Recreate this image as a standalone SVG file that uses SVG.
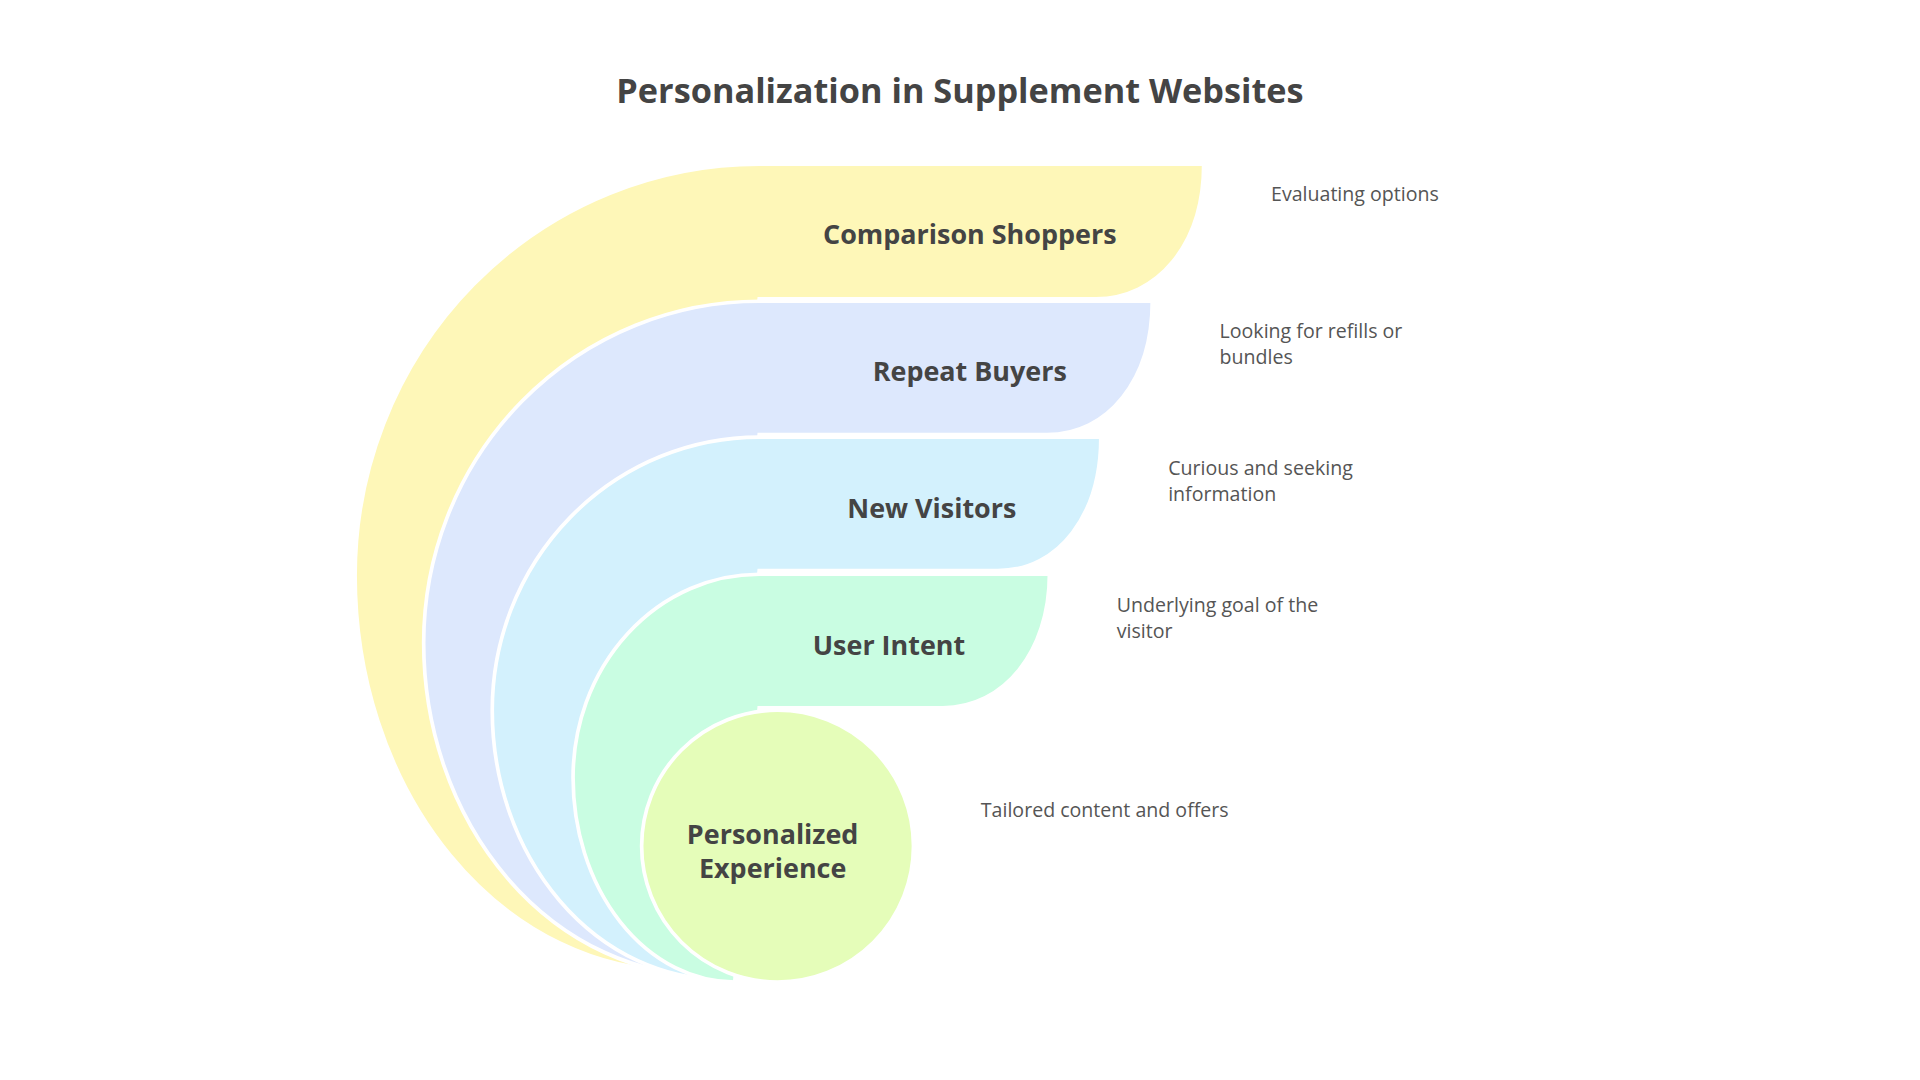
<svg xmlns="http://www.w3.org/2000/svg" width="1920" height="1080" viewBox="0 0 1920 1080">
<style>
.s{stroke:#fff;stroke-width:3}
.l{font-family:"Open Sans",sans-serif;font-weight:700;font-size:22px;fill:#444;text-anchor:middle}
.d{font-family:"Open Sans",sans-serif;font-size:16px;fill:#555}
</style>
<rect width="1920" height="1080" fill="#fff"/>
<g transform="scale(1.22449)">
<text x="784" y="84" style="font-family:'Open Sans',sans-serif;font-weight:700;font-size:28px;fill:#444;text-anchor:middle">Personalization in Supplement Websites</text>
<g id="comparison">
<path class="s" fill="#fef7b8" d="M983,134 L620,134 A330,336 0 0 0 290,470 A265,323 0 0 0 555,793 L620,244 L895,244 C945,244 983,200 983,134 Z"/>
<text class="l" x="792" y="199">Comparison Shoppers</text>
<text class="d" x="1038" y="164">Evaluating options</text>
</g>
<g id="repeat">
<path class="s" fill="#dde8fd" d="M941,246 L620,246 A274,279 0 0 0 346,525 A234,272 0 0 0 580,797 L620,355 L855,355 C905,355 941,310 941,246 Z"/>
<text class="l" x="792" y="311">Repeat Buyers</text>
<text class="d" x="996" y="276">Looking for refills or</text>
<text class="d" x="996" y="297">bundles</text>
</g>
<g id="new">
<path class="s" fill="#d3f1fd" d="M899,357 L620,357 A218,223 0 0 0 402,580 A188,220 0 0 0 590,800 L620,466 L815,466 C865,466 899,420 899,357 Z"/>
<text class="l" x="761" y="423">New Visitors</text>
<text class="d" x="954" y="388">Curious and seeking</text>
<text class="d" x="954" y="409">information</text>
</g>
<g id="intent">
<path class="s" fill="#c9fde2" d="M857,469 L620,469 A152,166 0 0 0 468,635 A132,167 0 0 0 600,802 L620,578 L770,578 C820,578 857,532 857,469 Z"/>
<text class="l" x="726" y="535">User Intent</text>
<text class="d" x="912" y="500">Underlying goal of the</text>
<text class="d" x="912" y="521">visitor</text>
</g>
<g id="personalized">
<ellipse class="s" fill="#e5fdb9" cx="635" cy="691" rx="111" ry="111"/>
<text class="l" x="631" y="689">Personalized</text>
<text class="l" x="631" y="717">Experience</text>
<text class="d" x="801" y="667">Tailored content and offers</text>
</g>
</g>
</svg>
